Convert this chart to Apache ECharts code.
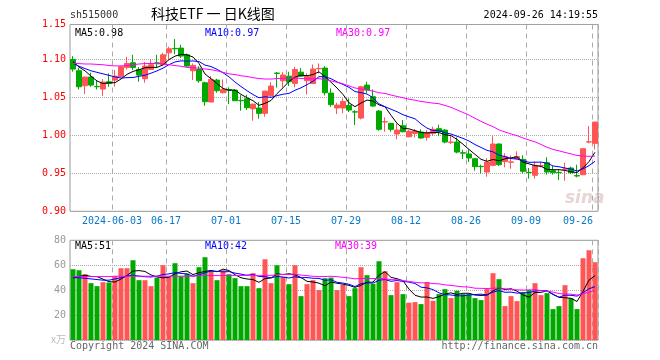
<!DOCTYPE html>
<html><head><meta charset="utf-8">
<script src="https://cdn.jsdelivr.net/npm/echarts@6/dist/echarts.min.js"></script>
<style>html,body{margin:0;padding:0;background:#fff}#c{width:660px;height:360px}</style>
</head><body><div id="c"></div>
<script>
const dates = [
'2024-05-23','2024-05-24','2024-05-27','2024-05-28','2024-05-29','2024-05-30','2024-05-31',
'2024-06-03','2024-06-04','2024-06-05','2024-06-06','2024-06-07','2024-06-11','2024-06-12','2024-06-13','2024-06-14',
'2024-06-17','2024-06-18','2024-06-19','2024-06-20','2024-06-21','2024-06-24','2024-06-25','2024-06-26','2024-06-27','2024-06-28',
'2024-07-01','2024-07-02','2024-07-03','2024-07-04','2024-07-05','2024-07-08','2024-07-09','2024-07-10','2024-07-11','2024-07-12',
'2024-07-15','2024-07-16','2024-07-17','2024-07-18','2024-07-19','2024-07-22','2024-07-23','2024-07-24','2024-07-25','2024-07-26',
'2024-07-29','2024-07-30','2024-07-31','2024-08-01','2024-08-02','2024-08-05','2024-08-06','2024-08-07','2024-08-08','2024-08-09',
'2024-08-12','2024-08-13','2024-08-14','2024-08-15','2024-08-16','2024-08-19','2024-08-20','2024-08-21','2024-08-22','2024-08-23',
'2024-08-26','2024-08-27','2024-08-28','2024-08-29','2024-08-30','2024-09-02','2024-09-03','2024-09-04','2024-09-05','2024-09-06',
'2024-09-09','2024-09-10','2024-09-11','2024-09-12','2024-09-13','2024-09-18','2024-09-19','2024-09-20',
'2024-09-23','2024-09-24','2024-09-25','2024-09-26'];

const opens = [1.100,1.0851,1.0654,1.0768,1.0645,1.061,1.0706,1.0728,1.0772,1.0895,
1.0956,1.0868,1.0746,1.0868,1.0956,1.093,1.1088,1.1145,1.1149,1.1061,
1.0851,1.0868,1.0693,1.0439,1.0728,1.0561,1.0605,1.0596,1.046,1.0482,
1.0351,1.036,1.029,1.0522,1.082,1.0719,1.078,1.0684,1.0833,1.0719,
1.0684,1.0877,1.0886,1.0557,1.036,1.036,1.0395,1.031,1.0228,1.0662,
1.0509,1.032,1.0176,1.0158,1.0018,1.0127,0.9982,1.0026,1.0044,0.9974,
1.0026,1.0088,1.007,0.9908,0.9912,0.977,0.9754,0.9693,0.9592,0.9517,
0.9605,0.9886,0.9654,0.9646,0.9693,0.9684,0.9512,0.9474,0.9596,0.964,
0.9535,0.9512,0.9553,0.957,0.9470,0.9482,0.9912,0.9895];
const closes = [1.0873,1.064,1.0768,1.0662,1.064,1.0702,1.0684,1.078,1.0904,1.0947,
1.0895,1.0794,1.0912,1.093,1.0945,1.1061,1.114,1.114,1.1044,1.0912,
1.0921,1.0719,1.0443,1.0737,1.0588,1.0605,1.0596,1.0456,1.0456,1.0364,
1.0412,1.029,1.0583,1.0649,1.0816,1.0794,1.0706,1.0868,1.078,1.078,
1.0873,1.0882,1.0561,1.0404,1.0399,1.0447,1.0333,1.0307,1.064,1.0596,
1.0386,1.0079,1.018,1.0079,1.007,1.0048,1.0053,1.0057,0.9965,1.0035,
1.0079,1.0048,0.9912,0.9912,0.978,0.9766,0.9702,0.9588,0.9588,0.9649,
0.9886,0.9614,0.972,0.965,0.972,0.9526,0.9509,0.9605,0.96,0.9517,
0.9509,0.9509,0.9557,0.9509,0.9465,0.9824,0.9916,1.0175];
const lows = [1.0838,1.0605,1.0544,1.064,1.0605,1.052,1.064,1.064,1.0772,1.0868,
1.086,1.0706,1.0693,1.086,1.0886,1.0912,1.100,1.107,1.1018,1.0904,
1.0728,1.0693,1.039,1.0439,1.0561,1.0553,1.0412,1.0456,1.0325,1.0333,
1.0193,1.0219,1.0246,1.0509,1.063,1.0632,1.0649,1.0632,1.0772,1.054,
1.0675,1.0816,1.0526,1.0377,1.0281,1.029,1.0307,1.0136,1.021,1.0553,
1.0377,1.0061,1.0048,1.0048,0.9947,1.004,0.9974,0.9974,0.9956,0.993,
0.9991,0.9991,0.9895,0.9886,0.9763,0.9688,0.9649,0.9535,0.95,0.9456,
0.9596,0.9596,0.9579,0.9561,0.9684,0.95,0.943,0.943,0.9579,0.9482,
0.9482,0.9412,0.9403,0.9491,0.9447,0.9474,0.9895,0.9816];
const highs = [1.1044,1.089,1.0768,1.0825,1.0728,1.074,1.0816,1.086,1.0912,1.1035,
1.1061,1.090,1.0965,1.100,1.1061,1.1088,1.1167,1.1268,1.1193,1.1079,
1.0947,1.0912,1.0706,1.0781,1.0746,1.0737,1.0632,1.0605,1.053,1.0535,
1.0412,1.0439,1.0583,1.0702,1.0833,1.0833,1.0838,1.0904,1.0886,1.0816,
1.0934,1.0947,1.0912,1.0618,1.043,1.0486,1.0486,1.0333,1.0653,1.0706,
1.0605,1.0333,1.0237,1.0167,1.0158,1.0202,1.007,1.0083,1.0079,1.007,
1.0114,1.014,1.0079,0.9991,0.9974,0.981,0.9816,0.9693,0.9614,0.97,
0.999,0.9895,0.9763,0.9737,0.979,0.9737,0.957,0.9658,0.9649,0.9711,
0.9596,0.9553,0.964,0.9588,0.9614,0.9824,1.0123,1.0175];
// volume, unit: 万
const volumes = [56.8,56,52.8,45.6,43.2,46.4,46.1,51.2,57.6,57.6,
64,48,48,43.2,50.1,60,50.7,61.6,51.2,53.3,
45.6,58.4,66.4,55.5,48,56,52.8,49.6,43.2,43.2,
53.6,41.6,64.8,45.6,60,50.7,44.8,60,35.2,44.8,
48,40,49.6,50.1,40,44.3,35.2,41.6,58.4,52,
45.1,63.2,55.2,36,46.4,36.8,29.9,30.4,28.8,46.4,
31.5,36.8,40.8,33.6,39.5,36.8,36.8,33.6,32,40.9,
53.6,48.8,27.2,35.2,31.2,38.4,40,45.6,36,37.6,
24.8,27.2,44,33.6,24.8,65.6,72,62.4];

// moving-average values for the first days (history before the window)
const priceMA5Lead = [1.097,1.090,1.085,1.078];
const priceMA10Lead = [1.095,1.091,1.088,1.085,1.083,1.081,1.079,1.077,1.0755];
const priceMA30Lead = [1.0947,1.0945,1.094,1.094,1.0935,1.093,1.092,1.0915,1.0915,1.092,
1.093,1.094,1.0945,1.0947,1.0945,1.094,1.093,1.092,1.091,1.0895,
1.089,1.0885,1.0875,1.0865,1.085,1.083,1.081,1.080,1.0785];
const volMA5Lead = [50,51,52,51];
const volMA10Lead = [50,50,49.5,49,48.5,48,48,49,50];
const volMA30Lead = [50.9,50.9,50.9,50.9,50.9,50.9,50.9,51.2,51.2,51.2,
51.2,51.2,51.2,51.2,51.2,51.2,51.2,51.2,51.2,51.2,
51.2,51.7,51.7,51.7,51.7,51.7,51.7,51.7,51.7];

const dateTickLabels = ['2024-06-03','06-17','07-01','07-15','07-29','08-12','08-26','09-09','09-26'];
const priceLabelColor = '#ff0000';

function ma(arr, n, lead) {
  return arr.map((_, i) => {
    if (i < n - 1) return lead[i];
    let s = 0; for (let k = i - n + 1; k <= i; k++) s += arr[k];
    return s / n;
  });
}
const pMA5 = ma(closes, 5, priceMA5Lead), pMA10 = ma(closes, 10, priceMA10Lead), pMA30 = ma(closes, 30, priceMA30Lead);
const vMA5 = ma(volumes, 5, volMA5Lead), vMA10 = ma(volumes, 10, volMA10Lead), vMA30 = ma(volumes, 30, volMA30Lead);
const last = a => a[a.length - 1];

const tickIdx = dateTickLabels.map(l => dates.findIndex(d => d.endsWith(l)));
const MONO = 'DejaVu Sans Mono';
const RED = '#ff5555', GREEN = '#00a800';

const gridL = 70, gridW = 528;
const chart = echarts.init(document.getElementById('c'), null, {renderer: 'canvas'});
const vGrid = {lineStyle: {color: '#aaa', type: [5, 4], width: 1}};
const hGrid = {lineStyle: {color: '#aaa', type: [1, 1], width: 1}};

chart.setOption({
  animation: false,
  backgroundColor: '#fff',
  grid: [
    {left: gridL, width: gridW, top: 24.5, height: 186.8, show: true, borderColor: '#999', borderWidth: 1, backgroundColor: 'transparent'},
    {left: gridL, width: gridW, top: 240.3, height: 99.7, show: true, borderColor: '#999', borderWidth: 1, backgroundColor: 'transparent'}
  ],
  xAxis: [
    {type: 'category', gridIndex: 0, data: dates, boundaryGap: true,
     axisLine: {show: false}, axisTick: {show: false},
     splitLine: Object.assign({show: true, interval: (i) => tickIdx.includes(i)}, vGrid),
     axisLabel: {show: true, interval: (i) => tickIdx.includes(i), margin: 5,
       color: '#0a78c8', fontFamily: MONO, fontSize: 10,
       formatter: (v, i) => {
         const k = tickIdx.indexOf(i);
         const t = dateTickLabels[k];
         return k === tickIdx.length - 1 ? '{e|' + t + '}' : '{n|' + t + '}';
       },
       rich: {
         n: {padding: [0, 6, 0, 0], color: '#0a78c8', fontFamily: MONO, fontSize: 10},
         e: {padding: [0, 34, 0, 0], color: '#0a78c8', fontFamily: MONO, fontSize: 10}
       }}},
    {type: 'category', gridIndex: 1, data: dates, boundaryGap: true,
     axisLine: {show: false}, axisTick: {show: false}, axisLabel: {show: false},
     splitLine: Object.assign({show: true, interval: (i) => tickIdx.includes(i)}, vGrid)}
  ],
  yAxis: [
    {type: 'value', gridIndex: 0, min: 0.90, max: 1.146, interval: 0.05, scale: true,
     axisLine: {show: false}, axisTick: {show: false},
     splitLine: Object.assign({show: true}, hGrid),
     axisLabel: {color: priceLabelColor, fontFamily: MONO, fontSize: 10, margin: 4,
       formatter: v => v.toFixed(2)}},
    {type: 'value', gridIndex: 1, min: 0, max: 80, interval: 20,
     axisLine: {show: false}, axisTick: {show: false},
     splitLine: Object.assign({show: true}, hGrid),
     axisLabel: {color: '#999', fontFamily: MONO, fontSize: 10, margin: 4,
       formatter: v => v === 0 ? '{u|x万}' : String(v),
       rich: {u: {color: '#bbb', fontFamily: 'Noto Sans CJK SC', fontSize: 10, padding: [-2, 0, 0, 0]}}}}
  ],
  series: [
    {type: 'candlestick', xAxisIndex: 0, yAxisIndex: 0, barWidth: 5, silent: true,
     data: dates.map((d, i) => [opens[i], closes[i], lows[i], highs[i]]),
     itemStyle: {color: RED, color0: GREEN, borderColor: RED, borderColor0: GREEN, borderWidth: 1}},
    {type: 'line', xAxisIndex: 0, yAxisIndex: 0, data: pMA5, showSymbol: false, silent: true, lineStyle: {color: '#000', width: 1}},
    {type: 'line', xAxisIndex: 0, yAxisIndex: 0, data: pMA10, showSymbol: false, silent: true, lineStyle: {color: '#0000ff', width: 1}},
    {type: 'line', xAxisIndex: 0, yAxisIndex: 0, data: pMA30, showSymbol: false, silent: true, lineStyle: {color: '#ff00ff', width: 1}},
    {type: 'bar', xAxisIndex: 1, yAxisIndex: 1, barWidth: 5, silent: true,
     data: volumes.map((v, i) => ({value: v, itemStyle: {color: closes[i] >= opens[i] ? RED : GREEN}}))},
    {type: 'line', xAxisIndex: 1, yAxisIndex: 1, data: vMA5, showSymbol: false, silent: true, lineStyle: {color: '#000', width: 1}},
    {type: 'line', xAxisIndex: 1, yAxisIndex: 1, data: vMA10, showSymbol: false, silent: true, lineStyle: {color: '#0000ff', width: 1}},
    {type: 'line', xAxisIndex: 1, yAxisIndex: 1, data: vMA30, showSymbol: false, silent: true, lineStyle: {color: '#ff00ff', width: 1}}
  ],
  graphic: [
    {type: 'text', left: 70, top: 10, style: {text: 'sh515000', font: '10px "' + MONO + '"', fill: '#333'}},
    {type: 'text', left: 151, top: 7, style: {text: '科技ETF 一 日K线图', font: '14px "Noto Sans CJK SC"', fill: '#000'}},
    {type: 'text', right: 62, top: 10, style: {text: '2024-09-26 14:19:55', font: '10px "' + MONO + '"', fill: '#000'}},
    {type: 'text', left: 75, top: 28, style: {text: 'MA5:' + last(pMA5).toFixed(2), font: '10px "' + MONO + '"', fill: '#000'}},
    {type: 'text', left: 205, top: 28, style: {text: 'MA10:' + last(pMA10).toFixed(2), font: '10px "' + MONO + '"', fill: '#0000ff'}},
    {type: 'text', left: 336, top: 28, style: {text: 'MA30:' + last(pMA30).toFixed(2), font: '10px "' + MONO + '"', fill: '#ff00ff'}},
    {type: 'text', left: 75, top: 241, style: {text: 'MA5:' + Math.floor(last(vMA5)), font: '10px "' + MONO + '"', fill: '#000'}},
    {type: 'text', left: 205, top: 241, style: {text: 'MA10:' + Math.floor(last(vMA10)), font: '10px "' + MONO + '"', fill: '#0000ff'}},
    {type: 'text', left: 335, top: 241, style: {text: 'MA30:' + Math.floor(last(vMA30)), font: '10px "' + MONO + '"', fill: '#ff00ff'}},
    {type: 'text', left: 70, top: 341, style: {text: 'Copyright 2024 SINA.COM', font: '10px "' + MONO + '"', fill: '#666'}},
    {type: 'text', right: 62, top: 341, style: {text: 'http://finance.sina.com.cn', font: '10px "' + MONO + '"', fill: '#666'}},
    {type: 'text', left: 565, top: 190, z: -1, style: {text: 'sina', font: 'italic bold 17px "DejaVu Sans"', fill: '#e6d6d6'}}
  ]
});
</script></body></html>
